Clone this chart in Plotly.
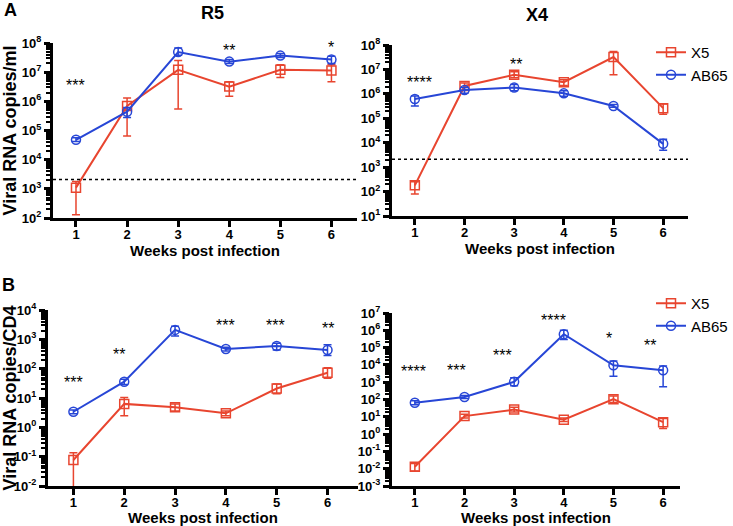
import math
import plotly.graph_objects as go

weeks = [1, 2, 3, 4, 5, 6]

# Panel A - R5 (copies/ml)
r5_x5 = [1.1e3, 6.9e5, 1.2e7, 3.2e6, 1.2e7, 1.15e7]
r5_x5_hi = [1.8e3, 1.3e6, 2.5e7, 4.7e6, 1.8e7, 1.8e7]
r5_x5_lo = [1.3e2, 6.5e4, 5.5e5, 1.5e6, 6.5e6, 4.7e6]
r5_ab = [4.8e4, 4.4e5, 4.9e7, 2.3e7, 3.7e7, 2.7e7]
r5_ab_hi = [5.6e4, 6.2e5, 6.7e7, 2.7e7, 4.4e7, 3.5e7]
r5_ab_lo = [4.2e4, 2.8e5, 3.8e7, 2.0e7, 3.2e7, 2.0e7]

# Panel A - X4 (copies/ml)
x4_x5 = [1.8e2, 2.1e6, 6.0e6, 3.0e6, 3.2e7, 2.6e5]
x4_x5_hi = [2.5e2, 2.8e6, 8.0e6, 3.8e6, 5.4e7, 3.8e5]
x4_x5_lo = [8.0e1, 1.4e6, 4.6e6, 2.2e6, 6.0e6, 1.45e5]
x4_ab = [6.2e5, 1.43e6, 1.8e6, 1.05e6, 3.2e5, 9.0e3]
x4_ab_hi = [8.2e5, 1.8e6, 2.4e6, 1.35e6, 3.7e5, 1.4e4]
x4_ab_lo = [3.2e5, 1.05e6, 1.35e6, 0.8e6, 2.8e5, 4.9e3]

# Panel B - R5 (copies/CD4)
r5cd4_x5 = [0.077, 6.3, 4.8, 3.0, 21, 73]
r5cd4_x5_hi = [0.137, 10.3, 6.2, 3.6, 30, 107]
r5cd4_x5_lo = [0.005, 2.5, 3.6, 2.5, 14, 47]
r5cd4_ab = [3.4, 36, 2.1e3, 4.7e2, 5.9e2, 4.3e2]
r5cd4_ab_hi = [3.9, 44, 2.8e3, 5.4e2, 7.3e2, 6.5e2]
r5cd4_ab_lo = [2.9, 29, 1.3e3, 4.0e2, 4.3e2, 2.8e2]

# Panel B - X4 (copies/CD4)
x4cd4_x5 = [0.013, 11, 26, 6.8, 105, 4.9]
x4cd4_x5_hi = [0.02, 14, 36, 8.5, 160, 8]
x4cd4_x5_lo = [0.0074, 8.5, 19, 5.4, 68, 2.1]
x4cd4_ab = [65, 140, 1.05e3, 5.9e5, 9.5e3, 4.9e3]
x4cd4_ab_hi = [85, 170, 1.8e3, 1.0e6, 1.7e4, 8.7e3]
x4cd4_ab_lo = [50, 115, 6.2e2, 2.9e5, 2.2e3, 5.4e2]

detection_limit = 2100

# significance labels: (week position, text, height value)
sig_r5 = [(1.0, "***", 5e6), (3.0, "**", 1.9e8), (4.0, "**", 8.5e7), (5.0, "*", 1.25e8), (6.0, "*", 1.0e8)]
sig_x4 = [(1.1, "****", 4.8e6), (3.04, "**", 2.5e7), (5.05, "***", 1.55e8)]
sig_r5cd4 = [(1.0, "***", 50), (1.9, "**", 460), (2.94, "***", 1.1e4), (4.0, "***", 4.4e3), (4.97, "***", 4.4e3), (6.0, "**", 3.6e3)]
sig_x4cd4 = [(0.97, "****", 8.5e3), (1.83, "***", 9.5e3), (2.77, "***", 7.0e4), (3.8, "****", 7.5e6), (4.92, "*", 6.5e5), (5.74, "**", 2.6e5)]

RED = "#E8452F"
BLUE = "#2746D6"
FONT = "Arial, Liberation Sans, Helvetica, sans-serif"
W, H = 733, 526

fig = go.Figure()


def add_series(xa, ya, vals, hi, lo, name, color, symbol, legend, showlegend):
    fig.add_trace(go.Scatter(
        x=weeks, y=vals, name=name, mode="lines+markers",
        xaxis=xa, yaxis=ya, legend=legend, showlegend=showlegend,
        line=dict(color=color, width=2),
        marker=dict(symbol=symbol, size=9, color=color, line=dict(width=1.5, color=color)),
        error_y=dict(type="data", symmetric=False,
                     array=[h - v for h, v in zip(hi, vals)],
                     arrayminus=[v - l for v, l in zip(vals, lo)],
                     color=color, thickness=1.5, width=4),
        cliponaxis=False,
    ))


panels = [
    ("x", "y", r5_x5, r5_x5_hi, r5_x5_lo, r5_ab, r5_ab_hi, r5_ab_lo, "legend", False),
    ("x2", "y2", x4_x5, x4_x5_hi, x4_x5_lo, x4_ab, x4_ab_hi, x4_ab_lo, "legend", True),
    ("x3", "y3", r5cd4_x5, r5cd4_x5_hi, r5cd4_x5_lo, r5cd4_ab, r5cd4_ab_hi, r5cd4_ab_lo, "legend2", False),
    ("x4", "y4", x4cd4_x5, x4cd4_x5_hi, x4cd4_x5_lo, x4cd4_ab, x4cd4_ab_hi, x4cd4_ab_lo, "legend2", True),
]

xranges = [[0.55, 6.5], [0.54, 6.5], [0.5, 6.6], [0.54, 6.34]]
for i, (xa, ya, a, ah, al, b, bh, bl, lg, sl) in enumerate(panels):
    add_series(xa, ya, a, ah, al, "X5", RED, "square-open", lg, sl)
    add_series(xa, ya, b, bh, bl, "AB65", BLUE, "circle-open", lg, sl)

# detection limit lines (panel A)
for xa, ya, xr in [("x", "y", xranges[0]), ("x2", "y2", xranges[1])]:
    fig.add_trace(go.Scatter(x=xr, y=[detection_limit, detection_limit], mode="lines",
                             xaxis=xa, yaxis=ya, showlegend=False, hoverinfo="skip",
                             line=dict(color="black", width=1.5, dash="dot")))


def sup(p):
    return "10<sup>%s</sup>" % (str(p) if p >= 0 else "-" + str(-p))


def yaxis_cfg(domain, pmin, pmax, title):
    vals = [10 ** p for p in range(pmin, pmax + 1)]
    return dict(
        type="log", domain=domain, range=[pmin, pmax],
        tickmode="array", tickvals=vals, ticktext=[sup(p) for p in range(pmin, pmax + 1)],
        showline=True, linewidth=3, linecolor="black", mirror=False,
        ticks="outside", ticklen=6, tickwidth=3, tickcolor="black",
        minor=dict(ticks="outside", ticklen=4, tickwidth=1.5, tickcolor="black", dtick="D1", showgrid=False),
        showgrid=False, zeroline=False, automargin=False,
        tickfont=dict(family=FONT, size=13, color="black", weight="bold"),
        title=dict(text=title, font=dict(family=FONT, size=18, color="black", weight="bold"), standoff=6),
    )


def xaxis_cfg(domain, anchor, xr):
    return dict(
        domain=domain, anchor=anchor, range=xr,
        tickmode="array", tickvals=weeks, ticktext=[str(w) for w in weeks],
        showline=True, linewidth=2.5, linecolor="black",
        ticks="outside", ticklen=6, tickwidth=2.5, tickcolor="black", ticklabelstandoff=-3,
        showgrid=False, zeroline=False, automargin=False,
        tickfont=dict(family=FONT, size=13, color="black", weight="bold"),
        title=dict(text="Weeks post infection", font=dict(family=FONT, size=15, color="black", weight="bold"), standoff=0),
    )


def dom(px0, px1, W_):
    return [px0 / W_, px1 / W_]


leg_common = dict(xanchor="right", yanchor="top", bgcolor="rgba(0,0,0,0)",
                  font=dict(family=FONT, size=15, color="black"), tracegroupgap=2, itemwidth=30)

fig.update_layout(
    width=W, height=H, margin=dict(l=0, r=0, t=0, b=0, autoexpand=False),
    paper_bgcolor="white", plot_bgcolor="white",
    font=dict(family=FONT, color="black"),
    xaxis=xaxis_cfg(dom(53, 357, W), "y", xranges[0]),
    yaxis=yaxis_cfg([1 - 218 / H, 1 - 43 / H], 2, 8, "Viral RNA copies/ml") | dict(anchor="x"),
    xaxis2=xaxis_cfg(dom(392, 688, W), "y2", xranges[1]),
    yaxis2=yaxis_cfg([1 - 216 / H, 1 - 45 / H], 1, 8, "") | dict(anchor="x2"),
    xaxis3=xaxis_cfg(dom(48, 358, W), "y3", xranges[2]),
    yaxis3=yaxis_cfg([1 - 486 / H, 1 - 310 / H], -2, 4, "Viral RNA copies/CD4") | dict(anchor="x3"),
    xaxis4=xaxis_cfg(dom(392, 680, W), "y4", xranges[3]),
    yaxis4=yaxis_cfg([1 - 486 / H, 1 - 313 / H], -3, 7, "") | dict(anchor="x4"),
    legend=dict(x=1.0, y=1 - 36 / H, **leg_common),
    legend2=dict(x=1.0, y=1 - 287 / H, **leg_common),
)

ann = []
for (xa, ya, sig) in [("x", "y", sig_r5), ("x2", "y2", sig_x4), ("x3", "y3", sig_r5cd4), ("x4", "y4", sig_x4cd4)]:
    for xv, txt, yv in sig:
        ann.append(dict(x=xv, y=math.log10(yv), xref=xa, yref=ya, text=txt, showarrow=False,
                        font=dict(family=FONT, size=16, color="black"), yanchor="middle", yshift=-5))

for txt, xp, yp in [("R5", 213, 13), ("X4", 537, 15)]:
    ann.append(dict(x=xp / W, y=1 - yp / H, xref="paper", yref="paper", text=txt, showarrow=False,
                    font=dict(family=FONT, size=18, color="black", weight="bold"), xanchor="center", yanchor="middle"))
for txt, xp, yp in [("A", 2, 10), ("B", 0, 285)]:
    ann.append(dict(x=xp / W, y=1 - yp / H, xref="paper", yref="paper", text=txt, showarrow=False,
                    font=dict(family=FONT, size=18, color="black", weight="bold"), xanchor="left", yanchor="middle"))
fig.update_layout(annotations=ann)

fig.write_html("out.html", config={"displayModeBar": False},
               post_script="document.body.style.margin='0';document.body.style.padding='0';")
